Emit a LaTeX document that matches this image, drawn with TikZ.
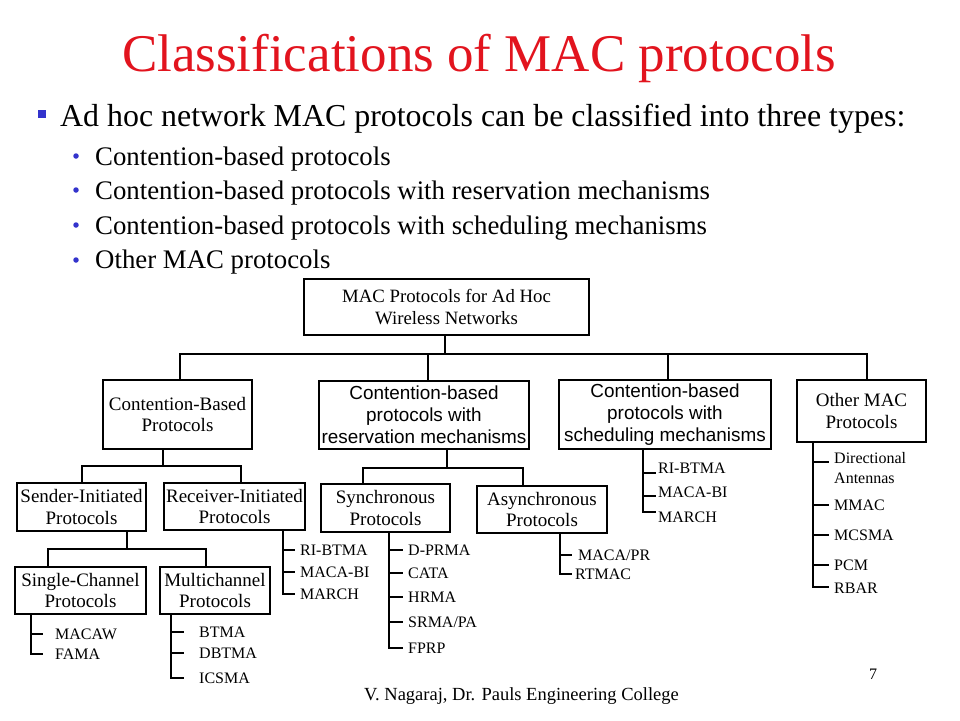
\documentclass[tikz,border=0pt]{standalone}
\usepackage{fontspec}
\setmainfont{Liberation Serif}
\newfontfamily\arialf{Liberation Sans}
\usetikzlibrary{calc}
\definecolor{titlered}{RGB}{226,20,30}
\definecolor{bulletblue}{RGB}{51,51,204}
\begin{document}
\begin{tikzpicture}[x=1pt,y=-1pt,
  box/.style={draw, line width=1.1pt, inner sep=0pt, align=center, font=\fontsize{19}{21.5}\selectfont},
  sbox/.style={box, font=\arialf\fontsize{18.9}{22}\selectfont},
  leaf/.style={anchor=west, inner sep=0pt, font=\fontsize{16}{20}\selectfont, text height=11pt, text depth=0pt},
  conn/.style={line width=1.1pt},
  subitem/.style={anchor=base west, inner sep=0pt, font=\fontsize{26.8}{30}\selectfont},
  dot/.style={circle, fill=bulletblue, minimum size=5.5pt, inner sep=0pt},
]
\useasboundingbox (0,0) rectangle (960,720);

% title and bullets
\node[anchor=base, inner sep=0pt, font=\fontsize{53}{60}\selectfont, text=titlered] (title) at (479,71) {Classifications of MAC protocols};
\node[fill=bulletblue, minimum size=7.5pt, inner sep=0pt] (sq) at (42,114) {};
\node[anchor=base west, inner sep=0pt, font=\fontsize{31.9}{36}\selectfont] (l0) at (60,126) {Ad hoc network MAC protocols can be classified into three types:};
\node[dot] (d1) at (76,156) {};
\node[dot] (d2) at (76,190) {};
\node[dot] (d3) at (76,225) {};
\node[dot] (d4) at (76,260) {};
\node[subitem] (l1) at (95,165) {Contention-based protocols};
\node[subitem] (l2) at (95,199) {Contention-based protocols with reservation mechanisms};
\node[subitem] (l3) at (95,234) {Contention-based protocols with scheduling mechanisms};
\node[subitem] (l4) at (95,268) {Other MAC protocols};

% boxes
\node[box, minimum width=285pt, minimum height=56pt, font=\fontsize{18.8}{22}\selectfont] (top) at (446.5,307) {MAC Protocols for Ad Hoc\\Wireless Networks};
\node[box, minimum width=149pt, minimum height=69pt] (b1) at (177.5,414.5) {Contention-Based\\Protocols};
\node[sbox, minimum width=210pt, minimum height=68pt] (b2) at (424,415) {Contention-based\\protocols with\\reservation mechanisms};
\node[sbox, minimum width=212pt, minimum height=69pt] (b3) at (665,414.5) {Contention-based\\protocols with\\scheduling mechanisms};
\node[box, minimum width=129pt, minimum height=62pt] (b4) at (861.5,411) {Other MAC\\Protocols};
\node[box, minimum width=129pt, minimum height=48pt] (sender) at (81.5,507) {Sender-Initiated\\Protocols};
\node[box, minimum width=141pt, minimum height=47pt] (receiver) at (234.5,506.5) {Receiver-Initiated\\Protocols};
\node[box, minimum width=131pt, minimum height=47pt] (single) at (80.5,590.5) {Single-Channel\\Protocols};
\node[box, minimum width=110pt, minimum height=47pt] (multi) at (215,590.5) {Multichannel\\Protocols};
\node[box, minimum width=129pt, minimum height=48pt] (sync) at (385.5,508) {Synchronous\\Protocols};
\node[box, minimum width=130pt, minimum height=47pt] (async) at (542,509.5) {Asynchronous\\Protocols};

% tree connectors
\coordinate (bus) at (0,354);
\draw[conn] ([xshift=-1.5pt]top.south) -- ([xshift=-1.5pt]top.south |- bus);
\draw[conn] ([xshift=2.5pt]b1.north) |- ([xshift=5.5pt]b4.north |- bus) -- ([xshift=5.5pt]b4.north);
\draw[conn] ([xshift=4pt]b2.north) -- ([xshift=4pt]b2.north |- bus);
\draw[conn] ([xshift=3pt]b3.north) -- ([xshift=3pt]b3.north |- bus);

\coordinate (bus1) at (0,466);
\draw[conn] ([xshift=-14.5pt]b1.south) -- ([xshift=-14.5pt]b1.south |- bus1);
\draw[conn] ([xshift=0.5pt]sender.north) |- ([xshift=6.5pt]receiver.north |- bus1) -- ([xshift=6.5pt]receiver.north);

\coordinate (bus2) at (0,549);
\draw[conn] ([xshift=45.5pt]sender.south) -- ([xshift=45.5pt]sender.south |- bus2);
\draw[conn] ([xshift=-32.5pt]single.north) |- ([xshift=-9pt]multi.north |- bus2) -- ([xshift=-9pt]multi.north);

\coordinate (bus3) at (0,468);
\draw[conn] ([xshift=23pt]b2.south) -- ([xshift=23pt]b2.south |- bus3);
\draw[conn] ([xshift=-22.5pt]sync.north) |- ([xshift=-19pt]async.north |- bus3) -- ([xshift=-19pt]async.north);

% leaves
\node[leaf] (macaw) at (55,634) {MACAW};
\node[leaf] (fama) at (55,654) {FAMA};
\node[leaf] (btma) at (199,632) {BTMA};
\node[leaf] (dbtma) at (199,653) {DBTMA};
\node[leaf] (icsma) at (199,678) {ICSMA};
\node[leaf] (ribtmaR) at (300,550) {RI-BTMA};
\node[leaf] (macabiR) at (300,572) {MACA-BI};
\node[leaf] (marchR) at (300,594) {MARCH};
\node[leaf] (dprma) at (408,550) {D-PRMA};
\node[leaf] (cata) at (408,573) {CATA};
\node[leaf] (hrma) at (408,597) {HRMA};
\node[leaf] (srma) at (408,622) {SRMA/PA};
\node[leaf] (fprp) at (408,648) {FPRP};
\node[leaf] (macapr) at (578,555) {MACA/PR};
\node[leaf] (rtmac) at (575,574) {RTMAC};
\node[leaf] (ribtmaS) at (658,468) {RI-BTMA};
\node[leaf] (macabiS) at (658,492) {MACA-BI};
\node[leaf] (marchS) at (658,517) {MARCH};
\node[anchor=north west, inner sep=0pt, align=left, font=\fontsize{16}{20}\selectfont] (dir) at (834,452.5) {Directional\\Antennas};
\node[leaf] (mmac) at (834,505) {MMAC};
\node[leaf] (mcsma) at (834,535) {MCSMA};
\node[leaf] (pcm) at (834,565) {PCM};
\node[leaf] (rbar) at (834,588) {RBAR};

% single-channel list
\coordinate (sv) at ([xshift=-49.5pt]single.south);
\draw[conn] (sv) |- ([xshift=-12pt]fama.west);
\draw[conn] (sv |- macaw.west) -- ([xshift=-12pt]macaw.west);
% multichannel list
\coordinate (mv) at ([xshift=-44pt]multi.south);
\draw[conn] (mv) |- ([xshift=-15pt]icsma.west);
\draw[conn] (mv |- btma.west) -- ([xshift=-15pt]btma.west);
\draw[conn] (mv |- dbtma.west) -- ([xshift=-15pt]dbtma.west);
% receiver list
\coordinate (rv) at ([xshift=48.5pt]receiver.south);
\draw[conn] (rv) |- ([xshift=-5pt]marchR.west);
\draw[conn] (rv |- ribtmaR.west) -- ([xshift=-5pt]ribtmaR.west);
\draw[conn] (rv |- macabiR.west) -- ([xshift=-5pt]macabiR.west);
% synchronous list
\coordinate (yv) at ([xshift=3.5pt]sync.south);
\draw[conn] (yv) |- ([xshift=-5pt]fprp.west);
\draw[conn] (yv |- dprma.west) -- ([xshift=-5pt]dprma.west);
\draw[conn] (yv |- cata.west) -- ([xshift=-5pt]cata.west);
\draw[conn] (yv |- hrma.west) -- ([xshift=-5pt]hrma.west);
\draw[conn] (yv |- srma.west) -- ([xshift=-5pt]srma.west);
% asynchronous list
\coordinate (av) at ([xshift=18pt]async.south);
\draw[conn] (av) |- ([xshift=-3pt]rtmac.west);
\draw[conn] (av |- macapr.west) -- ([xshift=-6pt]macapr.west);
% scheduling list
\coordinate (cv) at ([xshift=-22pt]b3.south);
\coordinate (c1) at ($(ribtmaS.west)+(-2,5)$);
\coordinate (c2) at ($(macabiS.west)+(-2,4)$);
\coordinate (c3) at ($(marchS.west)+(-2,-5)$);
\draw[conn] (cv) |- (c3);
\draw[conn] (cv |- c1) -- (c1);
\draw[conn] (cv |- c2) -- (c2);
% other list
\coordinate (dv) at ([xshift=-48.5pt]b4.south);
\coordinate (o1) at ($(dir.north west)+(-5,9.5)$);
\draw[conn] (dv) |- ([xshift=-5pt,yshift=1pt]rbar.west);
\draw[conn] (dv |- o1) -- (o1);
\draw[conn] (dv |- mmac.west) -- ([xshift=-5pt]mmac.west);
\draw[conn] (dv |- mcsma.west) -- ([xshift=-5pt]mcsma.west);
\draw[conn] (dv |- pcm.west) -- ([xshift=-5pt]pcm.west);

% footer
\node[anchor=base, inner sep=0pt, font=\fontsize{18.5}{22}\selectfont] (foot) at (521.5,700) {V. Nagaraj, Dr. Pauls Engineering College};
\node[inner sep=0pt, font=\fontsize{16}{18}\selectfont] (pg) at (873,674) {7};
\end{tikzpicture}
\end{document}
